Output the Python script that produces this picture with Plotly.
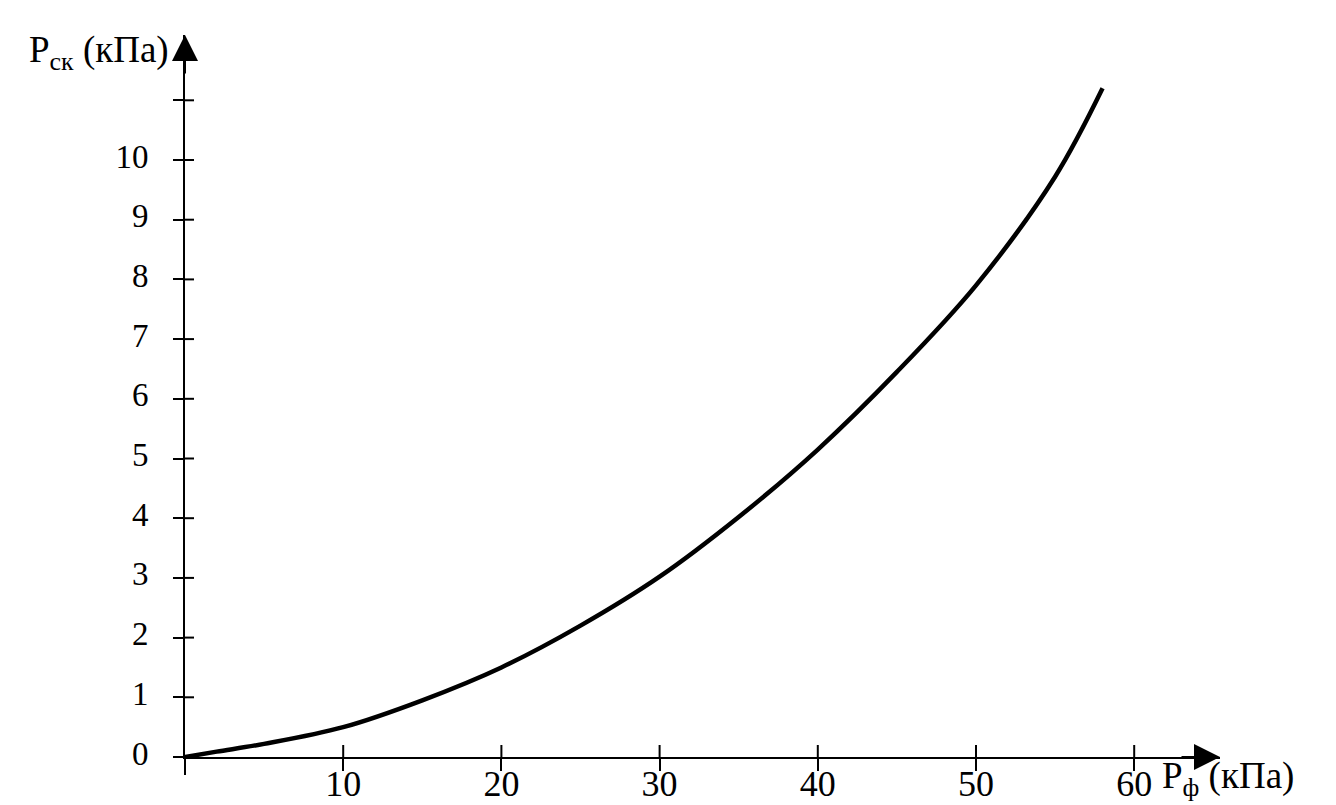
import plotly.graph_objects as go

# ---- data ----
p_f = [0, 2, 5, 10, 15, 20, 25, 30, 35, 40, 45, 50, 55, 58]
p_sk = [0, 0.09, 0.22, 0.5, 0.95, 1.5, 2.2, 3.02, 4.02, 5.15, 6.45, 7.9, 9.72, 11.2]

x_ticks = [10, 20, 30, 40, 50, 60]
x_labels = ["10", "20", "30", "40", "50", "60"]
y_ticks = [0, 1, 2, 3, 4, 5, 6, 7, 8, 9, 10, 11]
y_labels = ["0", "1", "2", "3", "4", "5", "6", "7", "8", "9", "10", ""]

# ---- layout geometry (pixels) ----
W, H = 1336, 805
L, R, T, B = 185, 1220, 35, 757
PX_X = 15.82   # pixels per kPa on x
PX_Y = 59.7    # pixels per kPa on y
x_max = (R - L) / PX_X
y_max = (B - T) / PX_Y

def px(xp):
    return (xp - L) / (R - L)

def py(yp):
    return (B - yp) / (B - T)

FONT = "Liberation Serif"

fig = go.Figure()
fig.add_trace(go.Scatter(x=p_f, y=p_sk, mode="lines",
                         line=dict(color="black", width=4.5, shape="spline", smoothing=1.0),
                         hoverinfo="skip", showlegend=False))

shapes = []
# inner halves of the crossing ticks
for v in x_ticks:
    shapes.append(dict(type="line", xref="x", yref="y", x0=v, x1=v,
                       ysizemode="pixel", yanchor=0, y0=0, y1=12,
                       line=dict(color="black", width=2)))
for v in y_ticks[1:]:
    shapes.append(dict(type="line", xref="x", yref="y", y0=v, y1=v,
                       xsizemode="pixel", xanchor=0, x0=0, x1=9,
                       line=dict(color="black", width=2)))
# y axis continues a bit below zero
shapes.append(dict(type="line", xref="paper", yref="paper", x0=0, x1=0,
                   ysizemode="pixel", yanchor=0, y0=-18, y1=0,
                   line=dict(color="black", width=2)))

annotations = [
    # arrow heads
    dict(xref="paper", yref="paper", x=1, y=0, ax=-40, ay=0, text="",
         showarrow=True, arrowhead=2, arrowsize=2.6, arrowwidth=2, arrowcolor="black"),
    dict(xref="paper", yref="paper", x=0, y=1, ax=0, ay=40, text="",
         showarrow=True, arrowhead=2, arrowsize=2.6, arrowwidth=2, arrowcolor="black"),
    # axis titles
    dict(xref="paper", yref="paper", x=px(27), y=py(52), xanchor="left", yanchor="middle",
         text="P<sub>ск</sub> (кПа)", showarrow=False,
         font=dict(family=FONT, size=37, color="black")),
    dict(xref="paper", yref="paper", x=px(1160), y=py(778), xanchor="left", yanchor="middle",
         text="P<sub>ф</sub> (кПа)", showarrow=False,
         font=dict(family=FONT, size=37, color="black")),
]

fig.update_layout(
    width=W, height=H,
    margin=dict(l=L, r=W - R, t=T, b=H - B, autoexpand=False),
    paper_bgcolor="white", plot_bgcolor="white",
    shapes=shapes, annotations=annotations,
    xaxis=dict(range=[0, x_max], showgrid=False, zeroline=False, automargin=False,
               showline=True, linecolor="black", linewidth=2,
               tickmode="array", tickvals=x_ticks, ticktext=x_labels,
               ticks="outside", ticklen=12, tickwidth=2, tickcolor="black",
               ticklabelstandoff=-18,
               tickfont=dict(family=FONT, size=36, color="black")),
    yaxis=dict(range=[0, y_max], showgrid=False, zeroline=False, automargin=False,
               showline=True, linecolor="black", linewidth=2,
               tickmode="array", tickvals=y_ticks, ticktext=y_labels,
               ticks="outside", ticklen=10, tickwidth=2, tickcolor="black",
               ticklabelstandoff=18, ticklabelshift=-4,
               tickfont=dict(family=FONT, size=33, color="black")),
)

fig.write_html("out.html", config={"displayModeBar": False},
               post_script="document.body.style.margin='0';document.body.style.padding='0';")
